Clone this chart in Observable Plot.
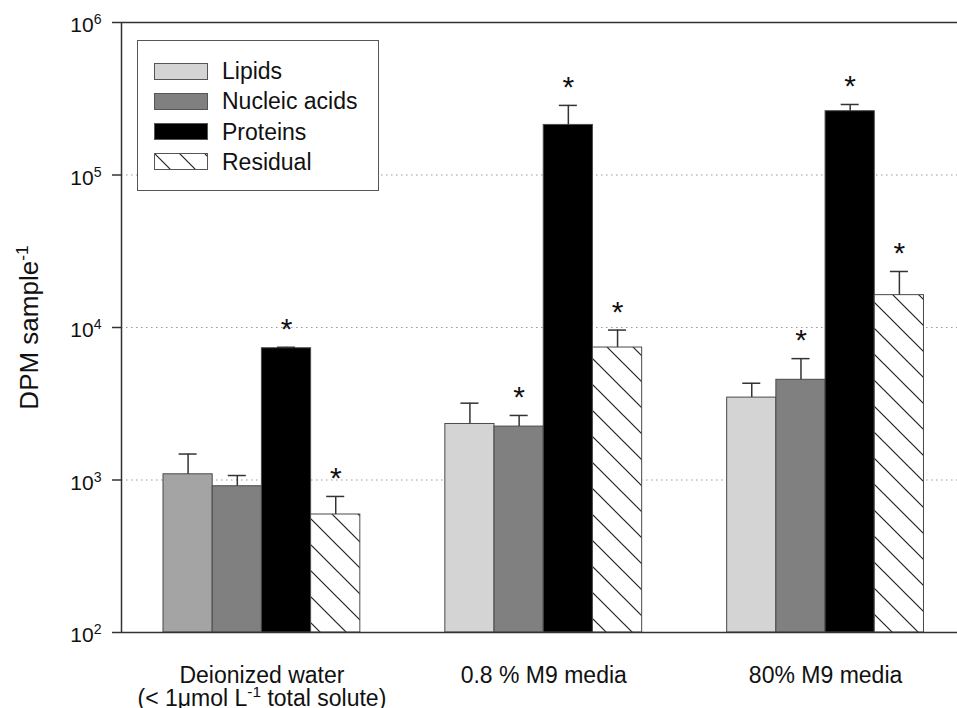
<!DOCTYPE html>
<html><head><meta charset="utf-8">
<script src="https://cdn.jsdelivr.net/npm/d3@7"></script>
<script src="https://cdn.jsdelivr.net/npm/@observablehq/plot@0.6"></script>
<style>
body{margin:0;background:#fff;}
#wrap{position:relative;width:957px;height:708px;font-family:"Liberation Sans",Arial,sans-serif;color:#111;}
#legend{position:absolute;left:137px;top:40px;width:242px;height:151px;box-sizing:border-box;border:1.5px solid #555;background:#fff;}
.row{position:absolute;left:16px;height:18px;display:flex;align-items:center;}
.sw{width:54px;height:17px;box-sizing:border-box;border:1px solid #555;}
.lab{margin-left:14px;font-size:23px;line-height:18px;white-space:nowrap;}
</style>
</head><body>
<div id="wrap"></div>
<script>
// ---- data ----
const groups = ["Deionized water\n(< 1μmol L^{-1} total solute)", "0.8 % M9 media", "80% M9 media"];
const components = ["Lipids", "Nucleic acids", "Proteins", "Residual"];
const lipids = [1090, 2330, 3470];
const lipidsSE = [390, 860, 840];
const nucleicAcids = [910, 2240, 4540];
const nucleicAcidsSE = [160, 410, 1710];
const proteins = [7310, 213000, 262000];
const proteinsSE = [110, 73000, 28000];
const residual = [594, 7390, 16300];
const residualSE = [186, 2230, 7000];
const lipidsSig = [false, false, false];
const nucleicAcidsSig = [false, true, true];
const proteinsSig = [true, true, true];
const residualSig = [true, true, true];
const yTicks = [1e2, 1e3, 1e4, 1e5, 1e6];
const gridValues = [1e3, 1e4, 1e5];
const yLabel = "DPM sample^{-1}";

// ---- styles ----
const compFill = {"Lipids": "#d4d4d4", "Nucleic acids": "#808080", "Proteins": "#000000", "Residual": "url(#hatch)"};
const firstGroupLipidsFill = "#a4a4a4";
const bw = 0.1746;   // bar width in group units
const cap = 0.032;   // error cap half width
const xDomain = [-0.4982, 2.4681];

const series = [
  [lipids, lipidsSE, lipidsSig],
  [nucleicAcids, nucleicAcidsSE, nucleicAcidsSig],
  [proteins, proteinsSE, proteinsSig],
  [residual, residualSE, residualSig]
];
const rows = [];
groups.forEach((g, gi) => {
  components.forEach((c, ci) => {
    const [v, se, sig] = series[ci];
    rows.push({gi, ci, comp: c, value: v[gi], top: v[gi] + se[gi], sig: sig[gi],
      xc: gi + (ci - 1.5) * bw,
      fill: (gi === 0 && ci === 0) ? firstGroupLipidsFill : compFill[c]});
  });
});

const tickFmt = d => `10^{${Math.round(Math.log10(d))}}`;
const font = '"Liberation Sans", Arial, sans-serif';
const plot = Plot.plot({
  width: 957, height: 708,
  marginLeft: 121, marginRight: 0, marginTop: 22, marginBottom: 76,
  style: {fontFamily: font, fontSize: "20px", color: "#111", background: "white", overflow: "visible"},
  x: {domain: xDomain, axis: null},
  y: {type: "log", domain: [100, 1e6]},
  color: {type: "identity"},
  marks: [
    Plot.axisY({ticks: yTicks, tickFormat: () => "", tickSize: 9, label: null, stroke: "#333", strokeWidth: 1.5}),
    Plot.text(yTicks, {y: d => d, text: tickFmt, frameAnchor: "left", textAnchor: "end", dx: -20, dy: 3, fontSize: 21, fill: "#111"}),
    Plot.ruleY(gridValues, {stroke: "#999", strokeDasharray: "1.5,3.5", strokeWidth: 1}),
    Plot.rectY(rows, {x1: d => d.xc - bw / 2, x2: d => d.xc + bw / 2, y1: 100, y2: "value",
      fill: "fill", stroke: "#4a4a4a", strokeWidth: 1}),
    Plot.ruleX(rows, {x: "xc", y1: "value", y2: "top", stroke: "#333", strokeWidth: 1.5}),
    Plot.ruleY(rows, {y: "top", x1: d => d.xc - cap, x2: d => d.xc + cap, stroke: "#333", strokeWidth: 1.5}),
    Plot.text(rows.filter(d => d.sig), {x: "xc", y: "top", text: () => "*", fontSize: 30, dy: -18, fill: "#111"}),
    Plot.ruleY([100, 1e6], {stroke: "#333", strokeWidth: 1.5}),
    Plot.ruleX([xDomain[0]], {stroke: "#333", strokeWidth: 1.5}),
    Plot.text(groups, {x: (d, i) => i, frameAnchor: "bottom", lineAnchor: "top", dy: 34, fontSize: 23, fill: "#111", lineHeight: 1.0}),
    Plot.text([yLabel], {frameAnchor: "left", textAnchor: "middle", rotate: -90, dx: -92, fontSize: 26, fill: "#111"})
  ]
});

document.getElementById("wrap").appendChild(plot);

// hatch pattern
const NS = "http://www.w3.org/2000/svg";
function addHatch(svg, id, size) {
  const defs = document.createElementNS(NS, "defs");
  defs.innerHTML = `<pattern id="${id}" patternUnits="userSpaceOnUse" width="${size}" height="${size}">
    <rect width="${size}" height="${size}" fill="white"/>
    <path d="M0,0L${size},${size}M-3,${size - 3}L3,${size + 3}M${size - 3},-3L${size + 3},3" stroke="#222" stroke-width="1.2"/>
  </pattern>`;
  svg.insertBefore(defs, svg.firstChild);
}
addHatch(plot, "hatch", 26);

// superscript handling
function applySup(root) {
  const els = [...root.querySelectorAll("text, tspan")].filter(el => el.children.length === 0 && el.textContent.includes("^{"));
  for (const el of els) {
    const s = el.textContent;
    const fs = parseFloat(getComputedStyle(el).fontSize) || 20;
    el.textContent = "";
    const re = /\^\{([^}]*)\}/g;
    let last = 0, m, back = 0;
    const mk = (txt) => { const t = document.createElementNS(NS, "tspan"); t.textContent = txt; return t; };
    while ((m = re.exec(s))) {
      if (m.index > last) { const t = mk(s.slice(last, m.index)); if (back) { t.setAttribute("dy", back); back = 0; } el.appendChild(t); }
      const sp = mk(m[1]);
      const sh = fs * 0.38;
      sp.setAttribute("dy", -sh);
      sp.style.fontSize = (fs * 0.67).toFixed(1) + "px";
      el.appendChild(sp);
      back = sh;
      last = re.lastIndex;
    }
    if (last < s.length) { const t = mk(s.slice(last)); if (back) t.setAttribute("dy", back); el.appendChild(t); }
  }
}
applySup(plot);

// legend
const legend = document.createElement("div");
legend.id = "legend";
components.forEach((c, i) => {
  const row = document.createElement("div");
  row.className = "row";
  row.style.top = (21 + i * 30.3) + "px";
  let sw;
  if (c === "Residual") {
    sw = document.createElementNS(NS, "svg");
    sw.setAttribute("width", 54); sw.setAttribute("height", 17);
    sw.style.display = "block";
    addHatch(sw, "hatchLeg", 25);
    const r = document.createElementNS(NS, "rect");
    r.setAttribute("x", 0.5); r.setAttribute("y", 0.5); r.setAttribute("width", 53); r.setAttribute("height", 16);
    r.setAttribute("fill", "url(#hatchLeg)"); r.setAttribute("stroke", "#555");
    sw.appendChild(r);
  } else {
    sw = document.createElement("div");
    sw.className = "sw";
    sw.style.background = compFill[c];
  }
  const lab = document.createElement("span");
  lab.className = "lab";
  lab.textContent = c;
  row.appendChild(sw); row.appendChild(lab);
  legend.appendChild(row);
});
document.getElementById("wrap").appendChild(legend);
</script>
</body></html>
